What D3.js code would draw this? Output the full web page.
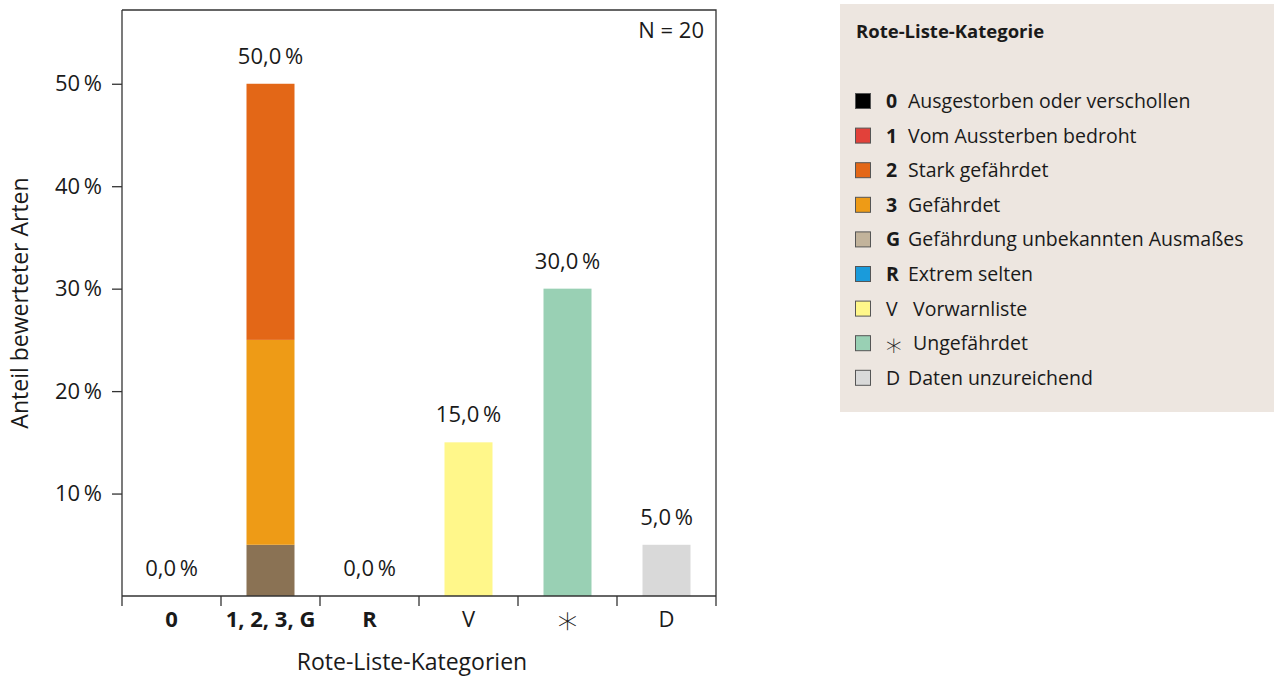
<!DOCTYPE html>
<html><head><meta charset="utf-8">
<script src="https://cdn.jsdelivr.net/npm/d3@7"></script>
<style>
body{margin:0;background:#fff;}
text{font-family:"Open Sans","Noto Sans",sans-serif;fill:#1a1a1a;}
</style></head>
<body><svg id="c" width="1274" height="680"></svg>
<script>
const categories = ["0", "1, 2, 3, G", "R", "V", "*", "D"];
const boldCategory = [true, true, true, false, false, false];
// values in percent, per category: segments stacked bottom -> top
const segments = [
  {cat: "0", key: "0", value: 0},
  {cat: "1, 2, 3, G", key: "G", value: 5},
  {cat: "1, 2, 3, G", key: "3", value: 20},
  {cat: "1, 2, 3, G", key: "2", value: 25},
  {cat: "1, 2, 3, G", key: "1", value: 0},
  {cat: "R", key: "R", value: 0},
  {cat: "V", key: "V", value: 15},
  {cat: "*", key: "star", value: 30},
  {cat: "D", key: "D", value: 5}
];
const totals = [0, 50, 0, 15, 30, 5];
const yTicks = [10, 20, 30, 40, 50];
const nLabel = "N = 20";
const legendCodes = ["0", "1", "2", "3", "G", "R", "V", "*", "D"];
const legendLabels = ["Ausgestorben oder verschollen", "Vom Aussterben bedroht", "Stark gefährdet", "Gefährdet", "Gefährdung unbekannten Ausmaßes", "Extrem selten", " Vorwarnliste", " Ungefährdet", "Daten unzureichend"];
const legendBold = [true, true, true, true, true, true, false, false, false];
const legendColors = ["#000000", "#E2413A", "#E36717", "#EE9B16", "#C2B39B", "#1A9BDB", "#FFF78A", "#99D0B4", "#D9D9D9"];
const barColors = {"0": "#000000", "1": "#E2413A", "2": "#E36717", "3": "#EE9B16", "G": "#8A7254", "R": "#1A9BDB", "V": "#FFF78A", "star": "#99D0B4", "D": "#D9D9D9"};

const svg = d3.select("#c");
const L = 122, R = 716, T = 10, B = 596;
const x = d3.scaleBand().domain(categories).range([L, R]).paddingInner(0).paddingOuter(0);
const y = d3.scaleLinear().domain([0, 57.2]).range([B, T]);
const bw = 48;
const FS = 22;

// bars
const offsets = {};
segments.forEach(s => {
  const base = offsets[s.cat] || 0;
  offsets[s.cat] = base + s.value;
  if (s.value <= 0) return;
  svg.append("rect")
    .attr("x", x(s.cat) + x.bandwidth() / 2 - bw / 2)
    .attr("width", bw)
    .attr("y", y(base + s.value))
    .attr("height", y(base) - y(base + s.value))
    .attr("fill", barColors[s.key]);
});

// value labels
const fmt = v => d3.format(".1f")(v).replace(".", ",") + "\u2009%";
categories.forEach((c, i) => {
  svg.append("text").attr("x", x(c) + x.bandwidth() / 2).attr("y", y(totals[i]) - 20)
    .attr("text-anchor", "middle").attr("font-size", FS).text(fmt(totals[i]));
});

// axes
const yAxis = d3.axisLeft(y).tickValues(yTicks).tickSize(10).tickPadding(10).tickFormat(d => d + "\u2009%");
const gy = svg.append("g").attr("transform", `translate(${L},0)`).call(yAxis);
gy.select(".domain").attr("d", `M0,${B}V${T}`);
gy.selectAll("line,path").attr("stroke", "#333").attr("stroke-width", 1.3);
gy.selectAll("text").attr("font-size", FS).attr("fill", "#1a1a1a").style("font-family", '"Open Sans",sans-serif');

const xAxis = d3.axisBottom(x).tickSize(0).tickPadding(15).tickFormat(d => d === "*" ? "" : d);
const gx = svg.append("g").attr("transform", `translate(0,${B})`).call(xAxis);
gx.select(".domain").attr("d", `M${L},0H${R}`).attr("stroke", "#333").attr("stroke-width", 1.3);
gx.selectAll(".tick text").attr("font-size", FS).attr("fill", "#1a1a1a")
  .style("font-family", '"Open Sans",sans-serif')
  .attr("font-weight", (d, i) => boldCategory[i] ? "bold" : "normal");
// star label drawn as thin asterisk glyph
svg.append("text").attr("x", x("*") + x.bandwidth() / 2).attr("y", 634).attr("text-anchor", "middle")
  .attr("font-size", 40).style("font-family", '"DejaVu Sans",sans-serif').style("font-weight", 200).text("\u2217");
// category boundary ticks
const bounds = categories.map(c => x(c)).concat([R]);
svg.append("g").selectAll("line").data(bounds).join("line")
  .attr("x1", d => d).attr("x2", d => d).attr("y1", B).attr("y2", B + 10)
  .attr("stroke", "#333").attr("stroke-width", 1.3);

// frame top & right
svg.append("path").attr("d", `M${L},${T}H${R}V${B}`).attr("fill", "none").attr("stroke", "#333").attr("stroke-width", 1.3);

svg.append("text").attr("x", R - 12).attr("y", 38).attr("text-anchor", "end").attr("font-size", FS).text(nLabel);

// axis titles
svg.append("text").attr("transform", `translate(28,${(T + B) / 2}) rotate(-90)`).attr("text-anchor", "middle").attr("font-size", 23).text("Anteil bewerteter Arten");
svg.append("text").attr("x", 412).attr("y", 670).attr("text-anchor", "middle").attr("font-size", 23).attr("fill", "#333").text("Rote-Liste-Kategorien");

// legend
const lg = svg.append("g");
lg.append("rect").attr("x", 840).attr("y", 4).attr("width", 434).attr("height", 408).attr("fill", "#EDE6E0");
lg.append("text").attr("x", 856).attr("y", 38).attr("font-size", 18.5).attr("font-weight", "bold").text("Rote-Liste-Kategorie");
legendLabels.forEach((lab, i) => {
  const yy = 101 + i * 34.6;
  lg.append("rect").attr("x", 855.5).attr("y", yy - 7.5).attr("width", 15).attr("height", 15)
    .attr("fill", legendColors[i]).attr("stroke", "#555").attr("stroke-width", 1);
  if (legendCodes[i] === "*") {
    lg.append("text").attr("x", 894).attr("y", yy + 13).attr("text-anchor", "middle").attr("font-size", 32)
      .style("font-family", '"DejaVu Sans",sans-serif').style("font-weight", 200).text("\u2217");
  } else {
    lg.append("text").attr("x", 886).attr("y", yy + 7).attr("font-size", 19.5)
      .attr("font-weight", legendBold[i] ? "bold" : "normal").text(legendCodes[i]);
  }
  lg.append("text").attr("x", 908).attr("y", yy + 7).attr("font-size", 19.5).attr("xml:space", "preserve").text(lab);
});
</script></body></html>
